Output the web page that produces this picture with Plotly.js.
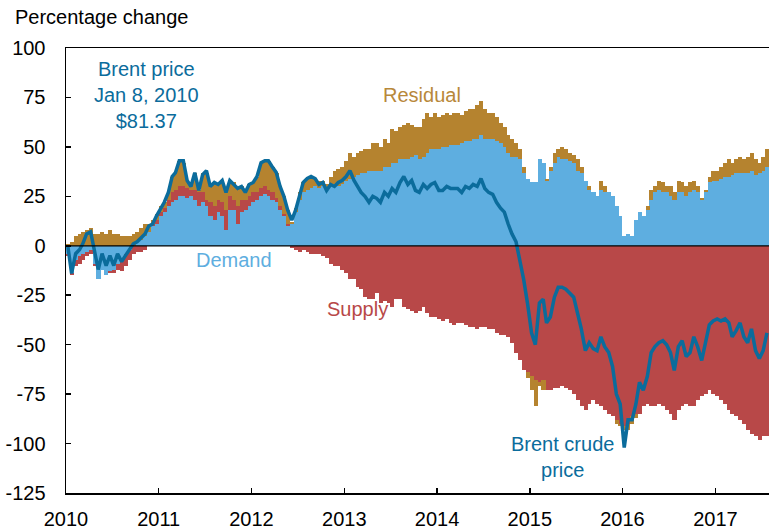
<!DOCTYPE html>
<html>
<head>
<meta charset="utf-8">
<script src="https://cdn.plot.ly/plotly-3.0.1.min.js"></script>
<style>html,body{margin:0;padding:0;background:#fff;}#chart{width:769px;height:531px;}</style>
</head>
<body>
<div id="chart"></div>
<script>
// Half-monthly decomposition of the Brent price change vs Jan 8, 2010 (log % change)
// Periods: 1st-15th and 16th-end of each month, Jan 2010 .. Jul 2017
const startYear = 2010, nPeriods = 182;

const demand = [
  -4,-14,-7,-5,-4,-3,-2,-9,-17,-12,-15,-13,-12,-9,-7,-4,-2,0,2,3,5,7,10,11,
  15,17,20,22,23,25,25,24,25,23,20,22,20,15,13,17,15,8,18,18,11,17,18,20,
  22,23,25,26,25,23,22,18,15,10,11,17,23,27,28,29,30,29,30,28,30,31,30,31,
  33,34,35,36,37,37,38,38,38,38,40,40,42,42,44,44,44,45,46,44,45,47,49,49,
  49,50,50,51,51,51,52,53,53,54,54,56,54,54,54,53,52,50,47,45,45,44,37,34,
  32,32,44,42,33,38,42,45,44,44,43,42,38,37,33,28,27,25,28,27,27,25,20,15,
  5,6,5,13,17,15,18,23,27,28,27,27,25,23,27,27,25,27,28,27,23,27,32,33,
  33,34,35,35,36,37,37,37,37,38,36,37,38,40
];
const supply = [
  -1,-1,-3,-4,-3,-2,-2,-1,0,0,0,-1,-2,-3,-6,-6,-5,-4,-3,-3,-2,0,1,2,
  2,2,3,5,5,5,5,5,3,5,7,5,3,7,7,6,7,10,7,5,9,6,5,5,
  5,4,4,4,3,4,2,2,1,1,-1,-2,-3,-2,-3,-4,-4,-4,-5,-6,-9,-10,-10,-12,
  -14,-17,-17,-21,-22,-26,-27,-27,-24,-29,-28,-29,-31,-27,-27,-31,-32,-33,-34,-33,-31,-34,-36,-36,
  -37,-38,-37,-39,-40,-39,-39,-40,-41,-41,-42,-41,-41,-42,-42,-44,-45,-45,-46,-49,-54,-58,-63,-64,
  -66,-68,-69,-68,-73,-73,-72,-72,-71,-72,-73,-75,-78,-81,-83,-80,-78,-80,-81,-83,-85,-86,-88,-90,
  -91,-90,-86,-85,-85,-81,-80,-81,-81,-80,-81,-83,-85,-88,-83,-81,-80,-81,-81,-78,-76,-75,-73,-75,
  -76,-78,-80,-83,-85,-86,-88,-90,-93,-95,-96,-98,-96,-96
];
const residual = [
  1,2,5,6,7,8,9,6,6,7,6,8,6,6,5,5,5,6,5,6,6,4,2,3,
  3,3,4,8,9,13,12,4,3,9,1,10,14,8,12,8,11,9,8,9,9,7,4,6,
  5,8,13,13,15,13,13,10,9,7,1,2,4,5,7,6,4,4,3,3,5,7,9,9,
  10,13,10,11,11,12,11,14,14,12,14,12,17,16,16,17,18,16,14,16,19,20,16,18,
  16,16,17,15,16,16,14,15,16,15,17,17,15,13,13,12,10,10,9,9,7,5,3,-3,
  -7,-13,-2,-5,1,2,5,4,6,5,4,4,6,3,0,2,0,0,5,3,0,0,-2,-1,
  -2,-3,-4,-2,0,0,2,5,3,5,5,3,5,4,6,5,5,5,5,3,1,1,3,5,
  5,6,7,9,6,7,8,7,8,9,8,5,7,9
];
// Brent crude price, sampled on the 8th and 23rd of each month (first = Jan 8, 2010 base)
const price = [
  0,-14,-4,-2,1,6,7,-3,-12,-4,-10,-5,-10,-4,-8,-5,-2,1,2,4,6,10,11,15,
  19,22,27,35,37,43,43,33,30,37,28,36,38,30,32,31,33,27,33,31,29,30,27,31,
  32,35,42,43,43,40,37,30,25,18,13,18,25,32,34,35,34,31,32,28,31,30,32,33,
  35,38,33,30,27,25,22,25,24,22,27,25,29,27,32,35,31,33,28,27,31,29,31,32,
  28,28,30,29,29,29,27,30,29,31,30,34,29,27,26,22,19,17,11,6,2,-7,-17,-29,
  -44,-50,-29,-27,-39,-36,-26,-21,-21,-22,-24,-26,-34,-42,-53,-49,-52,-53,-46,-51,-54,-61,-75,-80,
  -102,-88,-88,-80,-69,-73,-66,-54,-51,-49,-48,-50,-54,-63,-51,-48,-56,-54,-46,-51,-58,-49,-40,-38,
  -37,-38,-37,-39,-46,-43,-39,-46,-49,-42,-53,-57,-53,-44
];
const yTickVals = [100, 75, 50, 25, 0, -25, -50, -75, -100, -125];
const yTickText = ["100", "75", "50", "25", "0", "-25", "-50", "-75", "-100", "-125"];
const xTickYears = ["2010", "2011", "2012", "2013", "2014", "2015", "2016", "2017"];

function pad(n){return (n<10?"0":"")+n;}
const periodStarts = [], priceDates = [];
for (let k = 0; k < nPeriods; k++) {
  const mi = Math.floor(k / 2);
  const y = startYear + Math.floor(mi / 12);
  const m = (mi % 12) + 1;
  periodStarts.push(y + "-" + pad(m) + "-" + (k % 2 ? "16" : "01"));
  priceDates.push(y + "-" + pad(m) + "-" + (k % 2 ? "23" : "08"));
}

const C = {demand: "#5eaee0", supply: "#b84848", residual: "#b5832f", price: "#0b6c9c"};
const barW = 16 * 86400000;
const FONT = "Liberation Sans, Arial, Helvetica, sans-serif";

const traces = [
  {type: "bar", x: periodStarts, y: demand, name: "Demand", width: barW, offset: 0,
   marker: {color: C.demand, line: {width: 0}}, hoverinfo: "skip"},
  {type: "bar", x: periodStarts, y: supply, name: "Supply", width: barW, offset: 0,
   marker: {color: C.supply, line: {width: 0}}, hoverinfo: "skip"},
  {type: "bar", x: periodStarts, y: residual, name: "Residual", width: barW, offset: 0,
   marker: {color: C.residual, line: {width: 0}}, hoverinfo: "skip"},
  {type: "scatter", mode: "lines", x: priceDates, y: price, name: "Brent crude price",
   line: {color: C.price, width: 3.5}, hoverinfo: "skip"}
];

const annFont = (c) => ({family: FONT, size: 20, color: c});
const layout = {
  width: 769, height: 531,
  margin: {l: 66, r: 0, t: 48, b: 38, pad: 0},
  paper_bgcolor: "#fff", plot_bgcolor: "#fff",
  barmode: "relative", bargap: 0,
  showlegend: false,
  font: {family: FONT, size: 20, color: "#000"},
  xaxis: {
    type: "date", range: ["2010-01-01", "2017-07-31"],
    tickvals: xTickYears.map(y => y + "-01-01"), ticktext: xTickYears,
    showline: true, linecolor: "#000", linewidth: 1.5, mirror: true,
    ticks: "inside", ticklen: 5, tickwidth: 1.5, tickcolor: "#000",
    showgrid: false, zeroline: false, ticklabelstandoff: 7,
    tickfont: {family: FONT, size: 20, color: "#000"}
  },
  yaxis: {
    range: [-125, 100], tickvals: yTickVals, ticktext: yTickText,
    showline: true, linecolor: "#000", linewidth: 1.5,
    ticks: "inside", ticklen: 5, tickwidth: 1.5, tickcolor: "#000",
    showgrid: false, zeroline: false, ticklabelstandoff: 15,
    tickfont: {family: FONT, size: 20, color: "#000"}
  },
  shapes: [
    {type: "line", xref: "paper", x0: 0, x1: 1, yref: "y", y0: 0, y1: 0,
     line: {color: "#000", width: 1.2}, layer: "above"}
  ],
  annotations: [
    {xref: "paper", yref: "paper", x: -53/703, y: 1 + 31/445, xanchor: "left", yanchor: "middle",
     text: "Percentage change", showarrow: false, font: annFont("#000")},
    {xref: "x", yref: "y", x: "2010-11-15", y: 76, xanchor: "center", yanchor: "middle",
     text: "Brent price<br>Jan 8, 2010<br>$81.37", showarrow: false, font: annFont(C.price)},
    {xref: "x", yref: "y", x: "2013-11-01", y: 76, xanchor: "center", yanchor: "middle",
     text: "Residual", showarrow: false, font: annFont("#b8883a")},
    {xref: "x", yref: "y", x: "2011-10-25", y: -7, xanchor: "center", yanchor: "middle",
     text: "Demand", showarrow: false, font: annFont(C.demand)},
    {xref: "x", yref: "y", x: "2013-02-20", y: -32, xanchor: "center", yanchor: "middle",
     text: "Supply", showarrow: false, font: annFont(C.supply)},
    {xref: "x", yref: "y", x: "2015-05-10", y: -107, xanchor: "center", yanchor: "middle",
     text: "Brent crude<br>price", showarrow: false, font: annFont(C.price)}
  ]
};

Plotly.newPlot("chart", traces, layout, {staticPlot: true, displayModeBar: false});
</script>
</body>
</html>
